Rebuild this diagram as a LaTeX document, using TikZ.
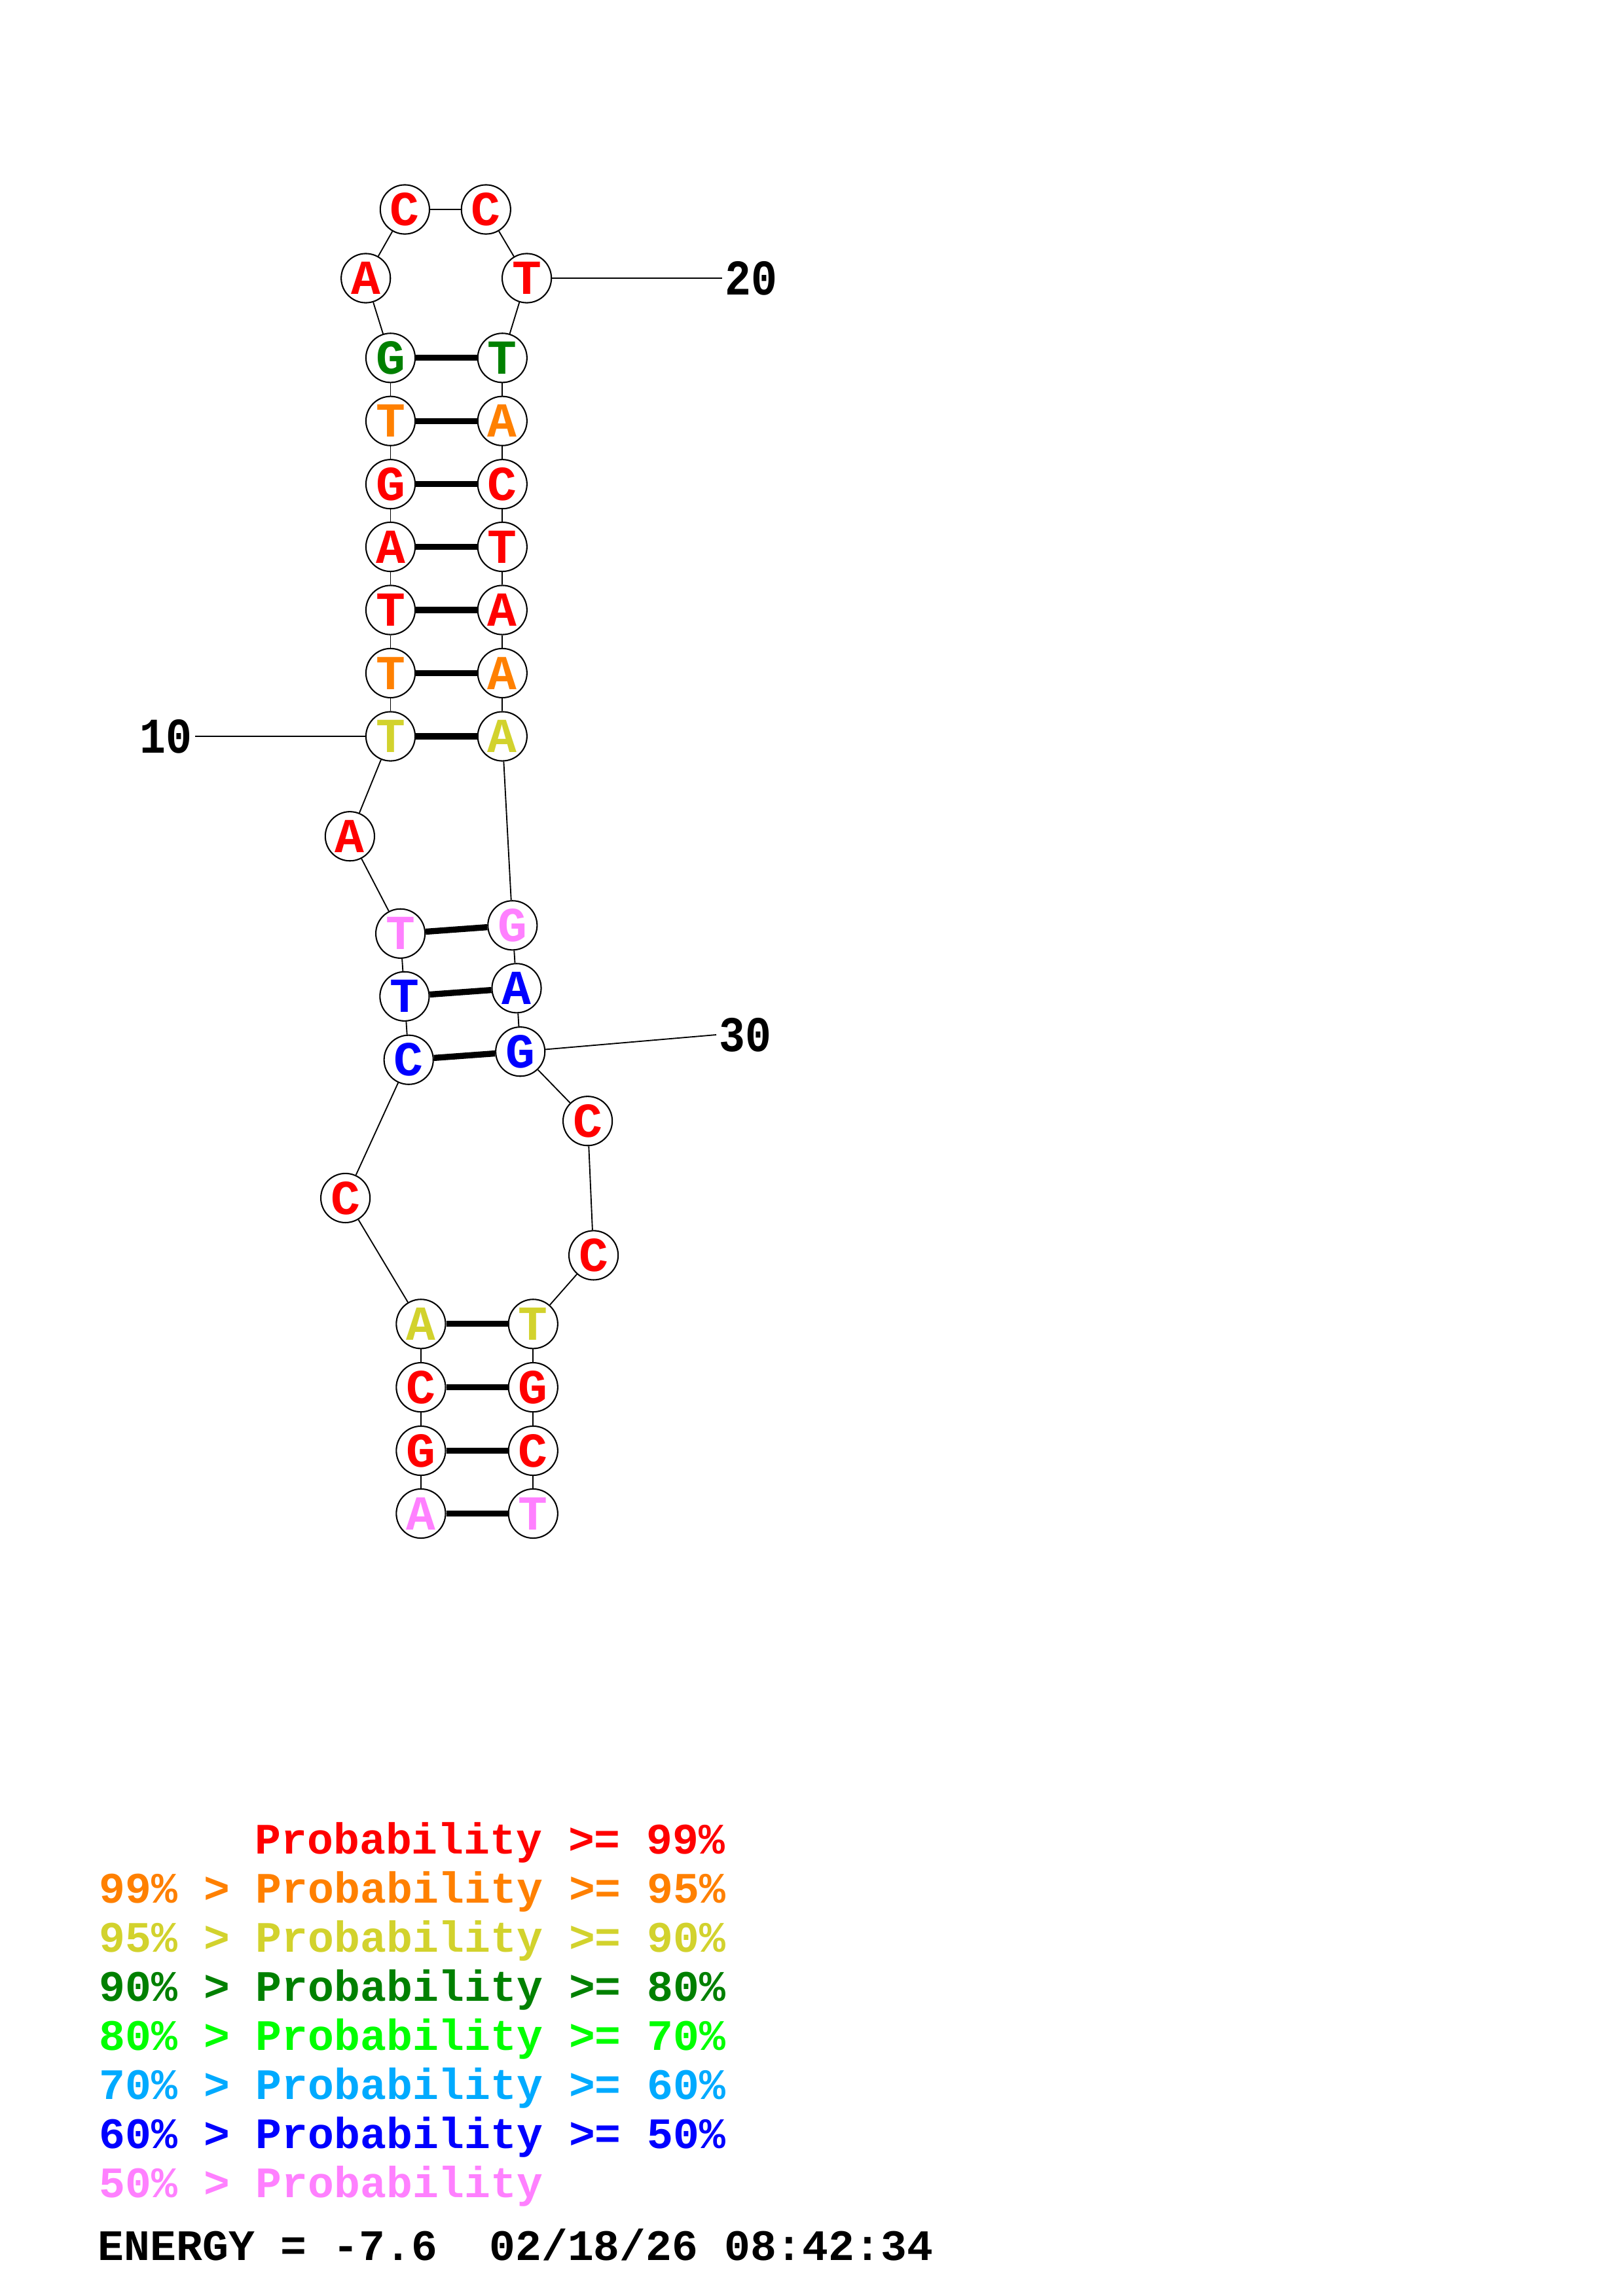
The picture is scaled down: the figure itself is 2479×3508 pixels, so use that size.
\documentclass[tikz,border=0pt]{standalone}
\usepackage{fontspec}
\usepackage{graphicx}
\newfontfamily\cb{Liberation Mono}
\definecolor{cR}{RGB}{255,0,0}
\definecolor{cO}{RGB}{255,128,0}
\definecolor{cY}{RGB}{210,210,45}
\definecolor{cG}{RGB}{0,128,0}
\definecolor{cL}{RGB}{0,255,0}
\definecolor{cS}{RGB}{0,170,255}
\definecolor{cB}{RGB}{0,0,255}
\definecolor{cP}{RGB}{255,128,255}
\tikzset{
  nt/.style={circle, draw=black, line width=0.5pt, minimum size=18.1pt, inner sep=0pt, fill=white,
    font=\cb\bfseries\fontsize{18pt}{18pt}\selectfont},
  bb/.style={line width=0.45pt},
  bond/.style={line width=2.25pt},
  numlbl/.style={inner sep=1pt, font=\cb\bfseries\fontsize{16pt}{16pt}\selectfont},
  leg/.style={anchor=base west, inner sep=0pt, font=\cb\bfseries\fontsize{16pt}{18pt}\selectfont}
}
\begin{document}
\begin{tikzpicture}[x=0.24091pt,y=-0.24091pt]
\useasboundingbox (0,0) rectangle (2479,3508);
% nucleotides
\node[nt,text=cP] (n1) at (642.9,2312.5) {A};
\node[nt,text=cR] (n2) at (642.9,2216.5) {G};
\node[nt,text=cR] (n3) at (642.9,2119.6) {C};
\node[nt,text=cY] (n4) at (642.9,2022.8) {A};
\node[nt,text=cR] (n5) at (527.6,1830.4) {C};
\node[nt,text=cB] (n6) at (624.2,1619.2) {C};
\node[nt,text=cB] (n7) at (617.9,1522.3) {T};
\node[nt,text=cP] (n8) at (611.6,1426.3) {T};
\node[nt,text=cR] (n9) at (534.4,1277.7) {A};
\node[nt,text=cY] (n10) at (596.5,1125) {T};
\node[nt,text=cO] (n11) at (596.5,1028.4) {T};
\node[nt,text=cR] (n12) at (596.5,932) {T};
\node[nt,text=cR] (n13) at (596.5,835.5) {A};
\node[nt,text=cR] (n14) at (596.5,739.7) {G};
\node[nt,text=cO] (n15) at (596.5,643.2) {T};
\node[nt,text=cG] (n16) at (596.5,546.8) {G};
\node[nt,text=cR] (n17) at (558.7,425) {A};
\node[nt,text=cR] (n18) at (618.4,320) {C};
\node[nt,text=cR] (n19) at (742.3,320) {C};
\node[nt,text=cR] (n20) at (804.6,425) {T};
\node[nt,text=cG] (n21) at (767.3,546.8) {T};
\node[nt,text=cO] (n22) at (767.3,643.2) {A};
\node[nt,text=cR] (n23) at (767.3,739.7) {C};
\node[nt,text=cR] (n24) at (767.3,835.5) {T};
\node[nt,text=cR] (n25) at (767.3,932) {A};
\node[nt,text=cO] (n26) at (767.3,1028.4) {A};
\node[nt,text=cY] (n27) at (767.3,1125) {A};
\node[nt,text=cP] (n28) at (782.8,1413.8) {G};
\node[nt,text=cB] (n29) at (789,1509.8) {A};
\node[nt,text=cB] (n30) at (794.7,1606.7) {G};
\node[nt,text=cR] (n31) at (897.6,1712.7) {C};
\node[nt,text=cR] (n32) at (906.6,1917.9) {C};
\node[nt,text=cY] (n33) at (814.3,2022.8) {T};
\node[nt,text=cR] (n34) at (814.3,2119.6) {G};
\node[nt,text=cR] (n35) at (814.3,2216.5) {C};
\node[nt,text=cP] (n36) at (814.3,2312.5) {T};
% backbone
\foreach \a/\b in {1/2,2/3,3/4,4/5,5/6,6/7,7/8,8/9,9/10,10/11,11/12,12/13,13/14,14/15,15/16,16/17,17/18,18/19,19/20,20/21,21/22,22/23,23/24,24/25,25/26,26/27,27/28,28/29,29/30,30/31,31/32,32/33,33/34,34/35,35/36}
  \draw[bb] (n\a) -- (n\b);
% pairs
\foreach \a/\b in {1/36,2/35,3/34,4/33,6/30,7/29,8/28,10/27,11/26,12/25,13/24,14/23,15/22,16/21}
  \draw[bond] (n\a) -- (n\b);
% position labels
\node[numlbl,anchor=east] (l10) at (298,1125) {\scalebox{1}[1.15]{10}};
\node[numlbl,anchor=west] (l20) at (1103,425) {\scalebox{1}[1.15]{20}};
\node[numlbl,anchor=west] (l30) at (1094,1581) {\scalebox{1}[1.15]{30}};
\draw[bb] (n10) -- (l10.east);
\draw[bb] (n20) -- (l20.west);
\draw[bb] (n30) -- (l30.west);
% legend
\node[leg,text=cR] (g1) at (389,2832) {Probability >= 99\%};
\node[leg,text=cO] (g2) at (151,2907) {99\% > Probability >= 95\%};
\node[leg,text=cY] (g3) at (151,2982) {95\% > Probability >= 90\%};
\node[leg,text=cG] (g4) at (151,3057) {90\% > Probability >= 80\%};
\node[leg,text=cL] (g5) at (151,3132) {80\% > Probability >= 70\%};
\node[leg,text=cS] (g6) at (151,3207) {70\% > Probability >= 60\%};
\node[leg,text=cB] (g7) at (151,3282) {60\% > Probability >= 50\%};
\node[leg,text=cP] (g8) at (151,3357) {50\% > Probability};
\node[leg,text=black] (en) at (149,3453) {ENERGY = -7.6~~02/18/26 08:42:34};
\end{tikzpicture}
\end{document}
